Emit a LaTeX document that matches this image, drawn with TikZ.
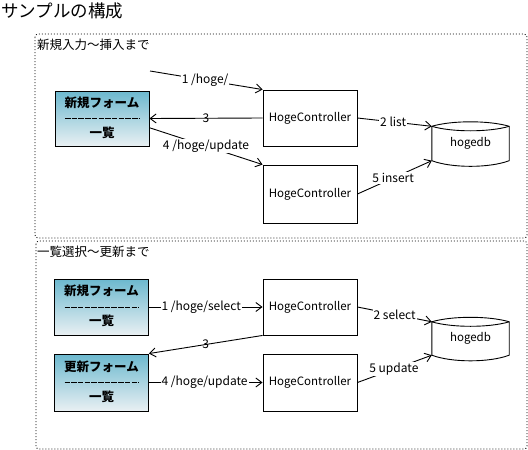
\documentclass[tikz,border=0pt]{standalone}
\usepackage{fontspec}
\setmainfont{Noto Sans CJK JP}
\usetikzlibrary{arrows.meta,calc}
\definecolor{formtop}{RGB}{108,184,206}
\definecolor{formbot}{RGB}{233,240,243}
\tikzset{
  base/.style={line width=0.9pt},
  frame/.style={draw, dash pattern=on 1pt off 2pt, line width=0.8pt, rounded corners=3pt},
  formbox/.style={base, draw, top color=formtop, bottom color=formbot, minimum width=94pt, minimum height=55pt, inner sep=0pt},
  formtxt/.style={font=\fontsize{12.5}{14}\selectfont\bfseries, inner sep=0pt},
  sep/.style={line width=0.8pt, dash pattern=on 5.5pt off 1.2pt},
  ctrl/.style={base, draw, fill=white, minimum width=94pt, minimum height=56pt, inner sep=0pt, font=\fontsize{11.5}{13}\selectfont},
  dbbox/.style={minimum width=77pt, minimum height=34pt, inner sep=0pt, font=\fontsize{11.5}{13}\selectfont},
  arr/.style={base, -{Straight Barb[length=6pt,width=9pt,line width=0.9pt]}},
  lab/.style={font=\fontsize{12}{13}\selectfont, fill=white, inner sep=1pt},
  labn/.style={font=\fontsize{12}{13}\selectfont, inner sep=0.5pt},
  ttl/.style={font=\fontsize{12.5}{14}\selectfont, anchor=west, inner sep=0pt},
}
\newcommand{\mydb}[1]{%
  \draw[base, fill=white] (#1.north west)
    .. controls ([xshift=20pt,yshift=6pt]#1.north west) and ([xshift=-20pt,yshift=6pt]#1.north east) .. (#1.north east)
    -- (#1.south east)
    .. controls ([xshift=-20pt,yshift=-7.5pt]#1.south east) and ([xshift=20pt,yshift=-7.5pt]#1.south west) .. (#1.south west)
    -- cycle;
  \draw[base] (#1.north east)
    .. controls ([xshift=-20pt,yshift=-6pt]#1.north east) and ([xshift=20pt,yshift=-6pt]#1.north west) .. (#1.north west);
}
\begin{document}
\begin{tikzpicture}[x=1pt,y=-1pt]
\useasboundingbox (0,0) rectangle (528,450);
% title
\node[font=\fontsize{17.5}{19}\selectfont, anchor=west, inner sep=0pt] (title) at (1,11) {サンプルの構成};
% frames
\draw[frame] (35,34) rectangle (527,238);
\draw[frame] (36,241) rectangle (527,449);
\node[ttl] (t1) at (37,44.5) {新規入力～挿入まで};
\node[ttl] (t2) at (37,251.5) {一覧選択～更新まで};

% ---------- top section ----------
\node[formbox] (f1) at (102,118.5) {};
\node[formtxt] (f1a) at ([yshift=16pt]f1.center) {新規フォーム};
\node[formtxt] (f1b) at ([yshift=-14pt]f1.center) {一覧};
\draw[sep] ([xshift=-37pt]f1.center) -- ([xshift=37pt]f1.center);

\node[ctrl] (c1) at (310,118) {HogeController};
\node[ctrl, minimum height=58pt] (c2) at (310,194) {HogeController};
\node[dbbox] (db1) at (470.5,143.5) {};
\mydb{db1}
\node[dbbox] (db1t) at (db1.center) {hogedb};

\coordinate (s1) at (150,71);
\draw[arr] (s1) -- node[lab, pos=0.49] (l1) {1 /hoge/} (c1.north west);
\draw[arr] (c1.west) -- node[labn, pos=0.5] (l3) {3} (f1.east);
\draw[arr] (f1.-11) -- node[lab, pos=0.5] (l4) {4 /hoge/update} (c2.north west);
\draw[arr] (c1.east) -- node[lab, pos=0.48] (l2) {2 list} (db1.north west);
\draw[arr] (c2.east) -- node[lab, pos=0.48] (l5) {5 insert} (db1.south west);

% ---------- bottom section ----------
\node[formbox, minimum height=56pt] (f3) at (101.5,307) {};
\node[formtxt] (f3a) at ([yshift=16pt]f3.center) {新規フォーム};
\node[formtxt] (f3b) at ([yshift=-14pt]f3.center) {一覧};
\draw[sep] ([xshift=-37pt]f3.center) -- ([xshift=37pt]f3.center);

\node[formbox, minimum height=57pt] (f4) at (101.5,382.5) {};
\node[formtxt] (f4a) at ([yshift=16pt]f4.center) {更新フォーム};
\node[formtxt] (f4b) at ([yshift=-14pt]f4.center) {一覧};
\draw[sep] ([xshift=-37pt]f4.center) -- ([xshift=37pt]f4.center);

\node[ctrl] (c3) at (310,307) {HogeController};
\node[ctrl, minimum height=57pt] (c4) at (310,382.5) {HogeController};
\node[dbbox, minimum height=33pt] (db2) at (470.5,338.5) {};
\mydb{db2}
\node[dbbox] (db2t) at (db2.center) {hogedb};

\draw[arr] (f3.east) -- node[lab, pos=0.46] (m1) {1 /hoge/select} (c3.west);
\draw[arr] (c3.south west) -- node[labn, pos=0.5] (m3) {3} (f4.north east);
\draw[arr] (f4.east) -- node[lab, pos=0.49] (m4) {4 /hoge/update} (c4.west);
\draw[arr] (c3.east) -- node[lab, pos=0.5] (m2) {2 select} (db2.north west);
\draw[arr] (c4.east) -- node[lab, pos=0.49] (m5) {5 update} (db2.south west);
\end{tikzpicture}
\end{document}
